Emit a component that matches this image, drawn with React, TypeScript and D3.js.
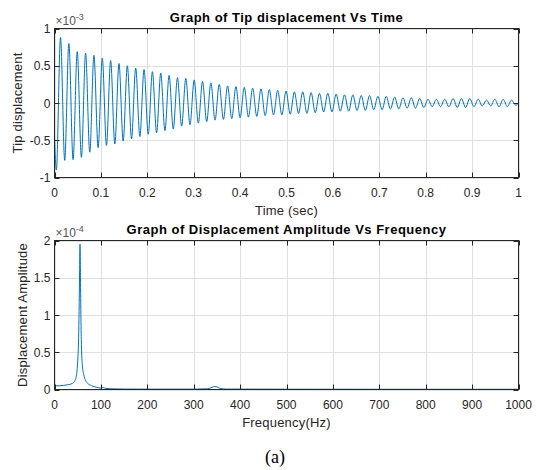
import React, { useRef, useEffect } from "react";
import * as d3 from "d3";

// Tip displacement (x1e-3): successive troughs and peaks
const tipTimes = [
  0, 0.004, 0.013, 0.022, 0.031, 0.04, 0.049, 0.058, 0.067, 0.076, 0.085, 0.094, 0.103,
  0.112, 0.121, 0.13, 0.139, 0.148, 0.157, 0.166, 0.175, 0.184, 0.193, 0.202, 0.211,
  0.22, 0.229, 0.238, 0.247, 0.256, 0.265, 0.274, 0.283, 0.292, 0.301, 0.31, 0.319,
  0.328, 0.337, 0.346, 0.355, 0.364, 0.373, 0.382, 0.391, 0.4, 0.409, 0.418, 0.427,
  0.436, 0.445, 0.454, 0.463, 0.472, 0.481, 0.49, 0.499, 0.508, 0.517, 0.526, 0.535,
  0.544, 0.553, 0.562, 0.571, 0.58, 0.589, 0.598, 0.607, 0.616, 0.625, 0.634, 0.643,
  0.652, 0.661, 0.67, 0.679, 0.688, 0.697, 0.706, 0.715, 0.724, 0.733, 0.742, 0.751,
  0.76, 0.769, 0.778, 0.787, 0.796, 0.805, 0.814, 0.823, 0.832, 0.841, 0.85, 0.859,
  0.868, 0.877, 0.886, 0.895, 0.904, 0.913, 0.922, 0.931, 0.94, 0.949, 0.958, 0.967,
  0.976, 0.985, 0.994, 1.0,
];
const tipDisp = [
  -0.45, -0.9, 0.88, -0.77, 0.8, -0.76, 0.69, -0.73, 0.67, -0.66, 0.64, -0.6, 0.6,
  -0.57, 0.57, -0.55, 0.53, -0.51, 0.5, -0.48, 0.47, -0.45, 0.45, -0.42, 0.42,
  -0.4, 0.4, -0.37, 0.37, -0.35, 0.34, -0.31, 0.33, -0.29, 0.31, -0.27, 0.29,
  -0.25, 0.27, -0.23, 0.25, -0.22, 0.23, -0.21, 0.22, -0.2, 0.21, -0.19, 0.2,
  -0.18, 0.19, -0.17, 0.18, -0.16, 0.17, -0.16, 0.16, -0.15, 0.15, -0.14, 0.15,
  -0.14, 0.14, -0.13, 0.13, -0.12, 0.13, -0.12, 0.12, -0.11, 0.11, -0.11, 0.11,
  -0.1, 0.1, -0.1, 0.1, -0.09, 0.09, -0.09, 0.09, -0.08, 0.08, -0.08, 0.07,
  -0.07, 0.07, -0.07, 0.06, -0.06, 0.05, -0.05, 0.05, -0.05, 0.05, -0.05, 0.06,
  -0.06, 0.06, -0.06, 0.06, -0.05, 0.05, -0.04, 0.04, -0.04, 0.05, -0.05, 0.05,
  -0.05, 0.04, -0.03, 0.0,
];

// Displacement amplitude spectrum (x1e-4)
const freqHz = [
  0, 10, 20, 30, 38, 44, 48, 50, 52, 53, 54, 55, 56, 57, 58, 60, 63, 67, 72, 80, 90,
  100, 105, 110, 120, 150, 200, 300, 330, 340, 345, 350, 357, 370, 500, 700, 1000,
];
const freqAmp = [
  0.05, 0.05, 0.055, 0.065, 0.08, 0.12, 0.22, 0.38, 0.7, 1.05, 1.55, 1.95, 1.5, 0.95,
  0.6, 0.33, 0.2, 0.12, 0.08, 0.05, 0.03, 0.02, 0.025, 0.015, 0.01, 0.006, 0.005,
  0.005, 0.01, 0.03, 0.04, 0.035, 0.015, 0.006, 0.004, 0.003, 0.003,
];

const timeTicks = [0, 0.1, 0.2, 0.3, 0.4, 0.5, 0.6, 0.7, 0.8, 0.9, 1];
const dispTicks = [-1, -0.5, 0, 0.5, 1];
const freqTicks = [0, 100, 200, 300, 400, 500, 600, 700, 800, 900, 1000];
const ampTicks = [0, 0.5, 1, 1.5, 2];

const FONT = "'Liberation Sans', Arial, sans-serif";
const AXIS = "#262626";
const GRID = "#e0e0e0";
const LINE = "#0072BD";

const drawPanel = (svg, cfg) => {
  const { left, right, top, bottom } = cfg;
  const x = d3.scaleLinear().domain(cfg.xDomain).range([left, right]);
  const y = d3.scaleLinear().domain(cfg.yDomain).range([bottom, top]);
  const g = svg.append("g");

  // grid
  g.selectAll(".gx")
    .data(cfg.xTicks)
    .enter()
    .append("line")
    .attr("x1", (d) => Math.round(x(d)) + 0.5)
    .attr("x2", (d) => Math.round(x(d)) + 0.5)
    .attr("y1", top)
    .attr("y2", bottom)
    .attr("stroke", GRID);
  g.selectAll(".gy")
    .data(cfg.yTicks)
    .enter()
    .append("line")
    .attr("x1", left)
    .attr("x2", right)
    .attr("y1", (d) => Math.round(y(d)) + 0.5)
    .attr("y2", (d) => Math.round(y(d)) + 0.5)
    .attr("stroke", GRID);

  // data line
  const line = d3
    .line()
    .x((d) => x(d[0]))
    .y((d) => y(d[1]))
    .curve(cfg.curve);
  g.append("path")
    .datum(cfg.xs.map((v, i) => [v, cfg.ys[i]]))
    .attr("d", line)
    .attr("fill", "none")
    .attr("stroke", LINE)
    .attr("stroke-width", 1);

  // box
  g.append("rect")
    .attr("x", left)
    .attr("y", top)
    .attr("width", right - left)
    .attr("height", bottom - top)
    .attr("fill", "none")
    .attr("stroke", AXIS);

  // inward ticks on all four sides
  const tl = 5;
  cfg.xTicks.forEach((d) => {
    const px = Math.round(x(d)) + 0.5;
    g.append("line").attr("x1", px).attr("x2", px).attr("y1", bottom).attr("y2", bottom - tl).attr("stroke", AXIS);
    g.append("line").attr("x1", px).attr("x2", px).attr("y1", top).attr("y2", top + tl).attr("stroke", AXIS);
  });
  cfg.yTicks.forEach((d) => {
    const py = Math.round(y(d)) + 0.5;
    g.append("line").attr("x1", left).attr("x2", left + tl).attr("y1", py).attr("y2", py).attr("stroke", AXIS);
    g.append("line").attr("x1", right).attr("x2", right - tl).attr("y1", py).attr("y2", py).attr("stroke", AXIS);
  });

  // tick labels
  g.selectAll(".tx")
    .data(cfg.xTicks)
    .enter()
    .append("text")
    .attr("x", (d) => x(d))
    .attr("y", bottom + 19)
    .attr("text-anchor", "middle")
    .attr("font-family", FONT)
    .attr("font-size", 12)
    .attr("fill", AXIS)
    .text((d) => String(d));
  g.selectAll(".ty")
    .data(cfg.yTicks)
    .enter()
    .append("text")
    .attr("x", left - 4)
    .attr("y", (d) => y(d) + 4.5)
    .attr("text-anchor", "end")
    .attr("font-family", FONT)
    .attr("font-size", 12)
    .attr("fill", AXIS)
    .text((d) => String(d));

  // exponent
  const ex = g
    .append("text")
    .attr("x", left + 1)
    .attr("y", top - 4)
    .attr("font-family", FONT)
    .attr("font-size", 12)
    .attr("fill", "#555");
  ex.append("tspan").text("×10");
  ex.append("tspan").attr("dy", -5).attr("font-size", 9).text(cfg.exponent);

  // title
  g.append("text")
    .attr("x", (left + right) / 2)
    .attr("y", top - 7)
    .attr("text-anchor", "middle")
    .attr("font-family", FONT)
    .attr("font-size", 13)
    .attr("letter-spacing", 0.5)
    .attr("font-weight", "bold")
    .attr("fill", "#000")
    .text(cfg.title);

  // axis labels
  g.append("text")
    .attr("x", (left + right) / 2)
    .attr("y", bottom + 37)
    .attr("text-anchor", "middle")
    .attr("font-family", FONT)
    .attr("font-size", 13)
    .attr("letter-spacing", 0.2)
    .attr("fill", AXIS)
    .text(cfg.xLabel);
  g.append("text")
    .attr("transform", `translate(${cfg.yLabelX},${(top + bottom) / 2}) rotate(-90)`)
    .attr("text-anchor", "middle")
    .attr("font-family", FONT)
    .attr("font-size", 13)
    .attr("letter-spacing", 0.2)
    .attr("fill", AXIS)
    .text(cfg.yLabel);
};

const App = () => {
  const svgRef = useRef();
  useEffect(() => {
    const svg = d3.select(svgRef.current);
    svg.selectAll("*").remove();

    drawPanel(svg, {
      left: 54.5,
      right: 518.5,
      top: 28.5,
      bottom: 177.5,
      xDomain: [0, 1],
      yDomain: [-1, 1],
      xTicks: timeTicks,
      yTicks: dispTicks,
      xs: tipTimes,
      ys: tipDisp,
      curve: d3.curveMonotoneX,
      exponent: "-3",
      title: "Graph of Tip displacement Vs Time",
      xLabel: "Time (sec)",
      yLabel: "Tip displacement",
      yLabelX: 22,
    });

    drawPanel(svg, {
      left: 54.5,
      right: 518.5,
      top: 240.5,
      bottom: 389.5,
      xDomain: [0, 1000],
      yDomain: [0, 2],
      xTicks: freqTicks,
      yTicks: ampTicks,
      xs: freqHz,
      ys: freqAmp,
      curve: d3.curveMonotoneX,
      exponent: "-4",
      title: "Graph of Displacement Amplitude Vs Frequency",
      xLabel: "Frequency(Hz)",
      yLabel: "Displacement Amplitude",
      yLabelX: 27,
    });

    svg
      .append("text")
      .attr("x", 275)
      .attr("y", 463)
      .attr("text-anchor", "middle")
      .attr("font-family", "'Liberation Serif', 'Times New Roman', serif")
      .attr("font-size", 18)
      .attr("fill", "#000")
      .text("(a)");
  }, []);

  return (
    <svg
      ref={svgRef}
      width={547}
      height={470}
      style={{ position: "absolute", left: 0, top: 0, background: "#fff" }}
    ></svg>
  );
};

export default App;
